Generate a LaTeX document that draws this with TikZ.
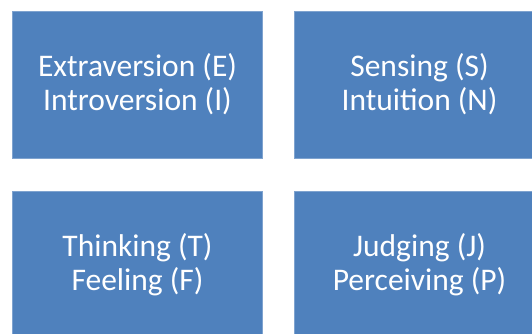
\documentclass[tikz,border=0pt]{standalone}
\usepackage{fontspec}
\setmainfont{Carlito}
\definecolor{boxblue}{HTML}{4F81BD}
\definecolor{boxedge}{HTML}{7FA3CF}
\usetikzlibrary{positioning}
\tikzset{
	typebox/.style={rectangle, fill=boxblue, draw=boxedge, line width=0.8pt,
		minimum width=250pt, minimum height=147pt, inner sep=0pt,
		text=white, align=center, font=\fontsize{31.5}{34}\selectfont}
}

\begin{document}
\begin{tikzpicture}[x=1pt,y=-1pt]
	\clip (0,0) rectangle (532,333);
	\useasboundingbox (0,0) rectangle (532,333);
	\node[typebox] (ei) at (137.5,84.5){Extraversion (E)\\Introversion (I)};%top left
	\node[typebox] (sn) at (419.5,84.5){Sensing (S)\\Intuition (N)};%top right
	\node[typebox] (tf) at (137.5,264.5){Thinking (T)\\Feeling (F)};%bottom left
	\node[typebox] (jp) at (419.5,264.5){Judging (J)\\Perceiving (P)};%bottom right
\end{tikzpicture}
\end{document}
